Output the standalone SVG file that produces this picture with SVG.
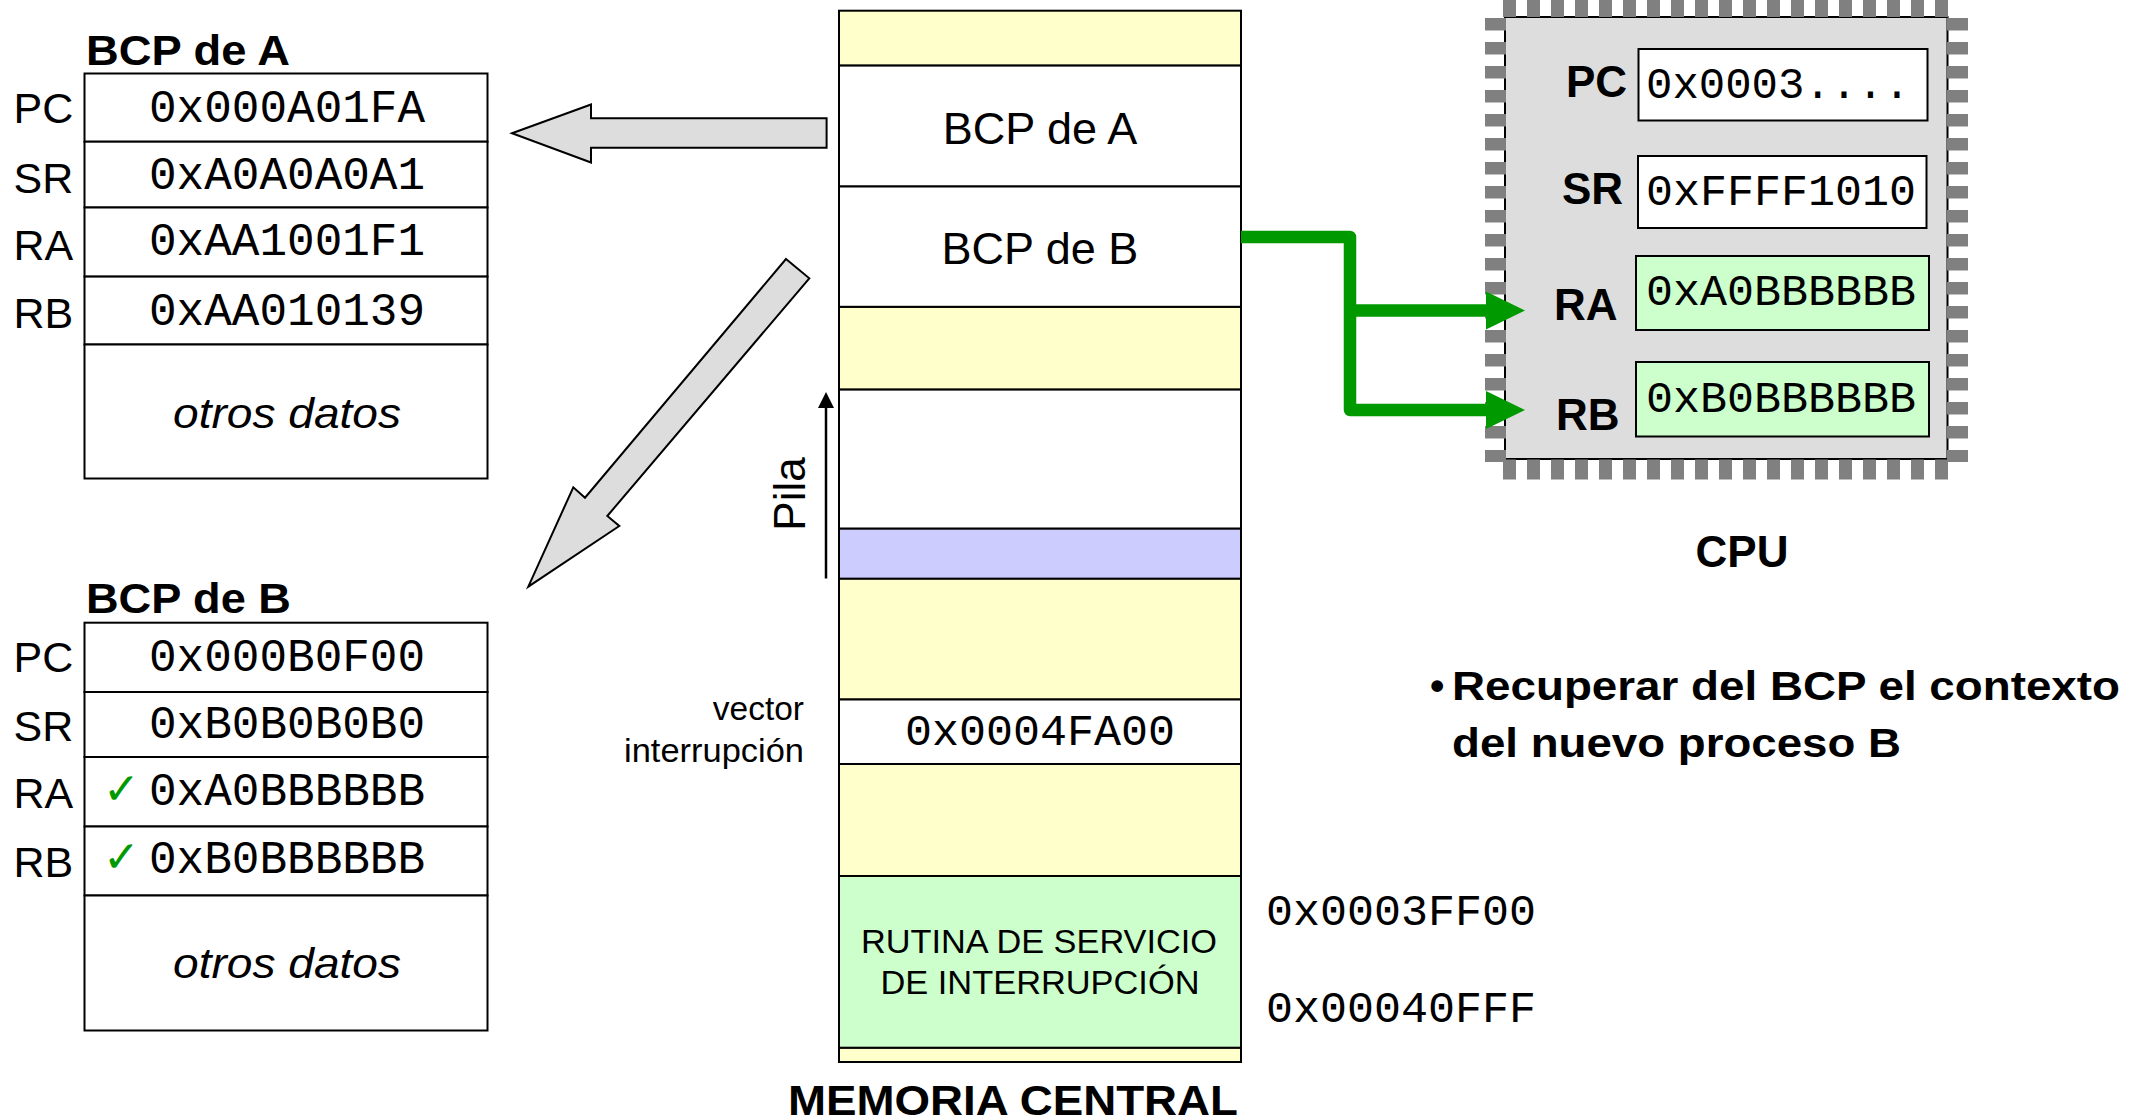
<svg xmlns="http://www.w3.org/2000/svg" width="2136" height="1120" viewBox="0 0 2136 1120">
<defs>
<style>
.t{font-family:"Liberation Sans",Arial,sans-serif;fill:#000}
.b{font-weight:bold}
.i{font-style:italic}
.m{font-family:"Liberation Mono","Courier New",monospace;fill:#000}
.box{stroke:#000;stroke-width:2}
.w{fill:#fff}
.y{fill:#ffffcc}
.l{fill:#ccccff}
.g{fill:#ccffcc}
.big{fill:#dddddd;stroke:#000;stroke-width:2;stroke-linejoin:miter}
.chk{font-family:"DejaVu Sans",sans-serif;fill:#009900}
.pin{stroke:#808080}
</style>
<marker id="gh" markerUnits="userSpaceOnUse" markerWidth="40" markerHeight="40" refX="3" refY="19" orient="auto">
<path d="M0,0 L39,19 L0,38 z" fill="#009900"/>
</marker>
<marker id="kh" markerUnits="userSpaceOnUse" markerWidth="18" markerHeight="18" refX="1" refY="8" orient="auto">
<path d="M0,0 L16,8 L0,16 z" fill="#000"/>
</marker>
</defs>
<rect width="2136" height="1120" fill="#fff"/>

<g id="bcp-a">
<text class="t b" x="86" y="65" font-size="42" textLength="204" lengthAdjust="spacingAndGlyphs">BCP de A</text>
<rect class="box w" x="84.5" y="73.5" width="403" height="68.2"/>
<rect class="box w" x="84.5" y="141.7" width="403" height="65.8"/>
<rect class="box w" x="84.5" y="207.5" width="403" height="69.1"/>
<rect class="box w" x="84.5" y="276.6" width="403" height="67.9"/>
<rect class="box w" x="84.5" y="344.5" width="403" height="134"/>
<text class="t" x="13.5" y="123" font-size="43">PC</text>
<text class="t" x="13.5" y="193" font-size="43">SR</text>
<text class="t" x="13.5" y="260" font-size="43">RA</text>
<text class="t" x="13.5" y="328" font-size="43">RB</text>
<text class="m" x="149" y="122" font-size="46">0x000A01FA</text>
<text class="m" x="149" y="189" font-size="46">0xA0A0A0A1</text>
<text class="m" x="149" y="255" font-size="46">0xAA1001F1</text>
<text class="m" x="149" y="325" font-size="46">0xAA010139</text>
<text class="t i" x="173" y="428" font-size="42" textLength="228" lengthAdjust="spacingAndGlyphs">otros datos</text>
</g>

<g id="bcp-b">
<text class="t b" x="86" y="613" font-size="42" textLength="205" lengthAdjust="spacingAndGlyphs">BCP de B</text>
<rect class="box w" x="84.5" y="622.7" width="403" height="69.3"/>
<rect class="box w" x="84.5" y="692" width="403" height="65"/>
<rect class="box w" x="84.5" y="757" width="403" height="69.5"/>
<rect class="box w" x="84.5" y="826.5" width="403" height="69"/>
<rect class="box w" x="84.5" y="895.5" width="403" height="135"/>
<text class="t" x="13.5" y="672" font-size="43">PC</text>
<text class="t" x="13.5" y="741" font-size="43">SR</text>
<text class="t" x="13.5" y="808" font-size="43">RA</text>
<text class="t" x="13.5" y="877" font-size="43">RB</text>
<text class="m" x="149" y="671" font-size="46">0x000B0F00</text>
<text class="m" x="149" y="738" font-size="46">0xB0B0B0B0</text>
<text class="chk" x="103" y="804" font-size="44">✓</text>
<text class="m" x="149" y="805" font-size="46">0xA0BBBBBB</text>
<text class="chk" x="103" y="872" font-size="44">✓</text>
<text class="m" x="149" y="873" font-size="46">0xB0BBBBBB</text>
<text class="t i" x="173" y="978" font-size="42" textLength="228" lengthAdjust="spacingAndGlyphs">otros datos</text>
</g>

<g id="flechas-bcp">
<polygon class="big" points="512,133.3 591,104.5 591,118.3 826.6,118.3 826.6,147.7 591,147.7 591,162.5"/>
<polygon class="big" points="786,259 809.3,278.3 607.3,516 619.3,526 528.3,586.7 573.3,487.3 585,497.7"/>
</g>

<g id="memoria">
<rect class="box y" x="839" y="10.7" width="402" height="54.9"/>
<rect class="box y" x="839" y="306.8" width="402" height="82.8"/>
<rect class="box w" x="839" y="389.6" width="402" height="139.1"/>
<rect class="box l" x="839" y="528.7" width="402" height="50.1"/>
<rect class="box y" x="839" y="578.8" width="402" height="120.7"/>
<rect class="box y" x="839" y="764" width="402" height="112"/>
<rect class="box y" x="839" y="1047.7" width="402" height="14.3"/>
<text class="t b" x="1013" y="1115" font-size="42" text-anchor="middle" textLength="450" lengthAdjust="spacingAndGlyphs">MEMORIA CENTRAL</text>
</g>

<g id="mem-bcp-a">
<rect class="box w" x="839" y="65.6" width="402" height="120.9"/>
<text class="t" x="1040" y="144" font-size="45" text-anchor="middle">BCP de A</text>
</g>

<g id="mem-bcp-b">
<rect class="box w" x="839" y="186.5" width="402" height="120.3"/>
<text class="t" x="1040" y="263.5" font-size="45" text-anchor="middle">BCP de B</text>
</g>

<g id="pila">
<line x1="826" y1="578.5" x2="826" y2="407" stroke="#000" stroke-width="2.5" marker-end="url(#kh)"/>
<text class="t" transform="translate(805,494) rotate(-90)" font-size="44" text-anchor="middle">Pila</text>
</g>

<g id="vector">
<rect class="box w" x="839" y="699.5" width="402" height="64.5"/>
<text class="m" x="1040" y="745" font-size="45" text-anchor="middle">0x0004FA00</text>
<text class="t" x="804" y="720" font-size="33.5" text-anchor="end">vector</text>
<text class="t" x="804" y="762" font-size="33.5" text-anchor="end" textLength="180" lengthAdjust="spacingAndGlyphs">interrupción</text>
</g>

<g id="rutina">
<rect class="box g" x="839" y="876" width="402" height="171.7"/>
<text class="t" x="1039" y="953" font-size="33" text-anchor="middle" textLength="356" lengthAdjust="spacingAndGlyphs">RUTINA DE SERVICIO</text>
<text class="t" x="1040" y="994" font-size="33" text-anchor="middle" textLength="319" lengthAdjust="spacingAndGlyphs">DE INTERRUPCIÓN</text>
<text class="m" x="1266" y="925" font-size="45">0x0003FF00</text>
<text class="m" x="1266" y="1022" font-size="45">0x00040FFF</text>
</g>

<g id="cpu">
<rect x="1505" y="17" width="442.5" height="442" fill="#dddddd" stroke="#000" stroke-width="2"/>
<line class="pin" x1="1503" y1="8.5" x2="1948" y2="8.5" stroke-width="17" stroke-dasharray="13 11"/>
<line class="pin" x1="1503" y1="469.5" x2="1948" y2="469.5" stroke-width="20" stroke-dasharray="13 11"/>
<line class="pin" x1="1495.5" y1="18" x2="1495.5" y2="462" stroke-width="21" stroke-dasharray="12.5 11.5"/>
<line class="pin" x1="1957.5" y1="18" x2="1957.5" y2="462" stroke-width="21" stroke-dasharray="12.5 11.5"/>
<rect class="box w" x="1638.5" y="49" width="289" height="71.5"/>
<rect class="box w" x="1638" y="156" width="288.5" height="72"/>
<rect class="box g" x="1636" y="256" width="293" height="74"/>
<rect class="box g" x="1636" y="362" width="293" height="74.5"/>
<text class="t b" x="1566" y="97" font-size="44">PC</text>
<text class="t b" x="1562" y="204" font-size="44">SR</text>
<text class="t b" x="1554" y="320" font-size="44">RA</text>
<text class="t b" x="1556" y="430" font-size="44">RB</text>
<text class="m" x="1646" y="98" font-size="44">0x0003....</text>
<text class="m" x="1646" y="205" font-size="45">0xFFFF1010</text>
<text class="m" x="1646" y="305" font-size="45">0xA0BBBBBB</text>
<text class="m" x="1646" y="412" font-size="45">0xB0BBBBBB</text>
<text class="t b" x="1742" y="567" font-size="44" text-anchor="middle">CPU</text>
</g>

<g id="conectores">
<polyline points="1241,237 1350,237 1350,410 1489,410" fill="none" stroke="#009900" stroke-width="12.5" stroke-linejoin="round" marker-end="url(#gh)"/>
<line x1="1350" y1="310.5" x2="1489" y2="310.5" stroke="#009900" stroke-width="12.5" marker-end="url(#gh)"/>
</g>

<g id="nota">
<text class="t b" x="1430" y="700" font-size="41">•</text>
<text class="t b" x="1452" y="700" font-size="41" textLength="668" lengthAdjust="spacingAndGlyphs">Recuperar del BCP el contexto</text>
<text class="t b" x="1452" y="757" font-size="41" textLength="449" lengthAdjust="spacingAndGlyphs">del nuevo proceso B</text>
</g>
</svg>
